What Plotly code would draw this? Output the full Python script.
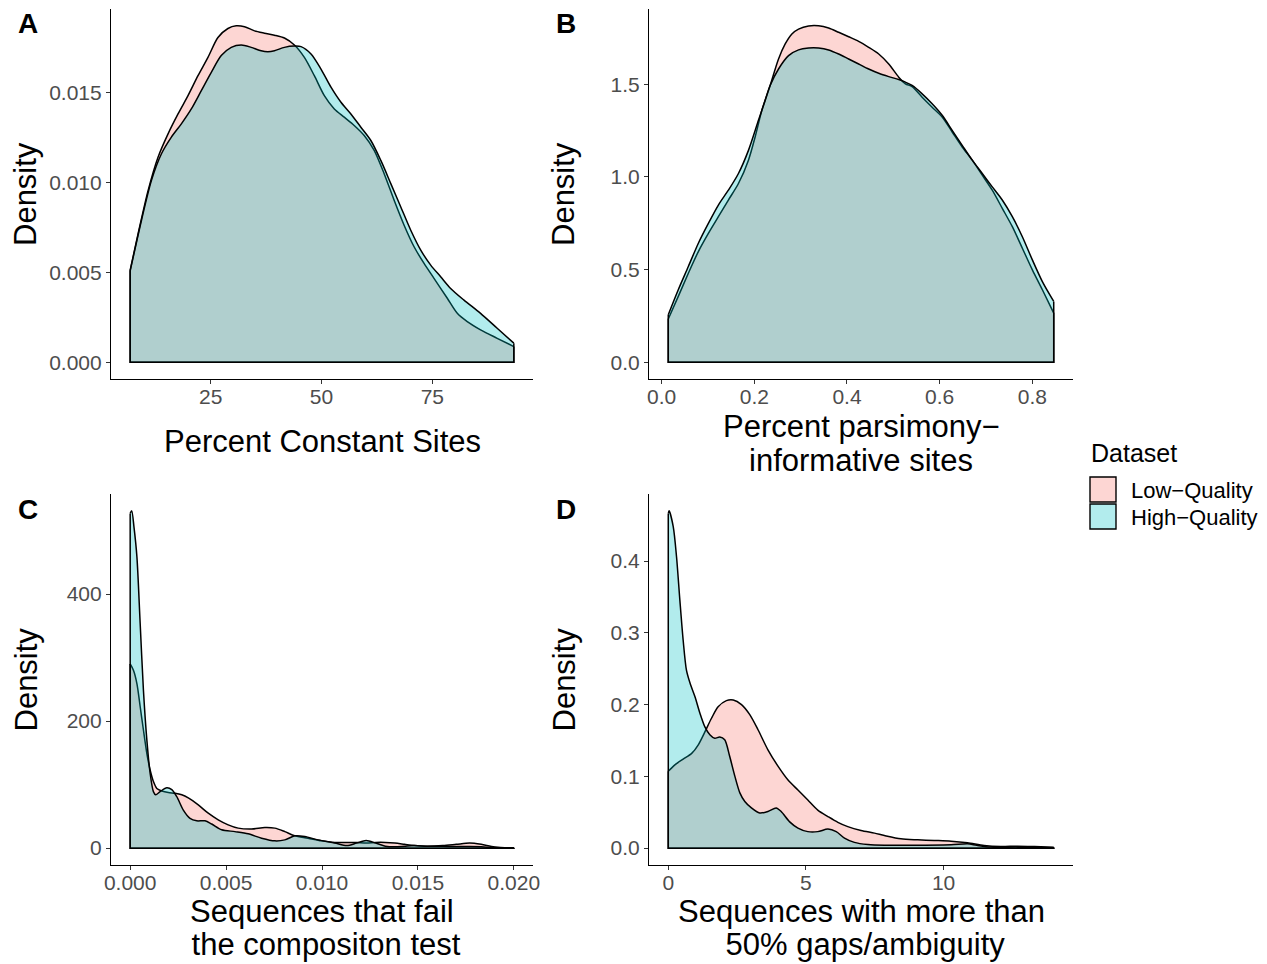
import plotly.graph_objects as go

W, H = 1267, 964
FONT = "Liberation Sans, Arial, Helvetica, sans-serif"
LOW_FILL = "rgba(248,118,109,0.3)"
HIGH_FILL = "rgba(0,191,196,0.3)"
TICK_GREY = "#4D4D4D"

series_names = ["Low\u2212Quality", "High\u2212Quality"]

# ---- A: percent constant sites ----
a_low_x = [6.86, 8.66, 10.91, 13.16, 15.40, 17.65, 19.90, 22.15, 24.40, 26.65, 28.90, 30.77,
           32.65, 34.90, 37.14, 39.39, 41.64, 43.89, 46.14, 48.39, 50.64, 52.89, 55.13, 57.38,
           59.63, 61.88, 64.13, 66.38, 68.63, 70.88, 73.13, 75.37, 78.37, 80.62, 82.87, 85.87,
           89.62, 93.37]
a_low_y = [0.00513, 0.00717, 0.00957, 0.01143, 0.01272, 0.01383, 0.01485, 0.01596, 0.01698,
           0.01809, 0.01859, 0.01874, 0.01869, 0.01846, 0.01833, 0.01822, 0.01806, 0.01767,
           0.01698, 0.01596, 0.01485, 0.01411, 0.01365, 0.01319, 0.01263, 0.01180, 0.01050,
           0.00902, 0.00763, 0.00643, 0.00550, 0.00467, 0.00356, 0.00272, 0.00226, 0.00180,
           0.00133, 0.00087]
a_high_x = [6.86, 9.41, 11.66, 13.91, 16.15, 18.40, 20.65, 22.90, 25.15, 27.40, 29.65, 31.90,
            34.15, 36.39, 37.89, 39.39, 41.64, 43.89, 45.39, 47.64, 49.89, 52.14, 54.39, 56.63,
            58.88, 61.13, 63.38, 65.63, 67.88, 70.13, 72.38, 74.63, 76.87, 79.12, 82.12, 85.87,
            89.62, 93.37]
a_high_y = [0.00509, 0.00791, 0.01013, 0.01161, 0.01254, 0.01328, 0.01411, 0.01513, 0.01615,
            0.01708, 0.01754, 0.01767, 0.01754, 0.01735, 0.01730, 0.01735, 0.01754, 0.01761,
            0.01758, 0.01717, 0.01633, 0.01532, 0.01448, 0.01383, 0.01309, 0.01235, 0.01124,
            0.00995, 0.00865, 0.00735, 0.00624, 0.00541, 0.00476, 0.00411, 0.00346, 0.00272,
            0.00189, 0.00106]

# ---- B: percent parsimony-informative sites ----
b_low_x = [0.0144, 0.036, 0.0577, 0.0793, 0.1009, 0.1225, 0.1441, 0.1658, 0.1874, 0.2018,
           0.2162, 0.2342, 0.2523, 0.2667, 0.2811, 0.2955, 0.3171, 0.3387, 0.3604, 0.382,
           0.4036, 0.4252, 0.4468, 0.4685, 0.4901, 0.5117, 0.5261, 0.5405, 0.5622, 0.5838,
           0.6054, 0.627, 0.6486, 0.6703, 0.6919, 0.7135, 0.7351, 0.7568, 0.7784, 0.8,
           0.8216, 0.8461]
b_low_y = [0.233, 0.355, 0.480, 0.597, 0.695, 0.785, 0.875, 0.964, 1.090, 1.215, 1.358, 1.493,
           1.636, 1.717, 1.771, 1.797, 1.814, 1.815, 1.803, 1.780, 1.756, 1.731, 1.699, 1.663,
           1.609, 1.538, 1.502, 1.487, 1.430, 1.376, 1.323, 1.242, 1.161, 1.090, 1.009, 0.928,
           0.830, 0.731, 0.615, 0.498, 0.391, 0.265]
b_high_x = [0.0144, 0.036, 0.0577, 0.0793, 0.1009, 0.1225, 0.1441, 0.1658, 0.1874, 0.209,
            0.2234, 0.2342, 0.2523, 0.2739, 0.2955, 0.3171, 0.3387, 0.3604, 0.382, 0.4036,
            0.4252, 0.4468, 0.4685, 0.4901, 0.5117, 0.5261, 0.5405, 0.5622, 0.5838, 0.6054,
            0.627, 0.6486, 0.6703, 0.6919, 0.7135, 0.7351, 0.7568, 0.7784, 0.8, 0.8216, 0.8461]
b_high_y = [0.256, 0.391, 0.516, 0.642, 0.749, 0.848, 0.928, 1.018, 1.143, 1.305, 1.412, 1.493,
            1.582, 1.654, 1.685, 1.695, 1.695, 1.685, 1.663, 1.636, 1.609, 1.582, 1.559, 1.541,
            1.525, 1.511, 1.493, 1.448, 1.394, 1.332, 1.251, 1.170, 1.090, 1.018, 0.946, 0.875,
            0.785, 0.677, 0.552, 0.435, 0.328]

# ---- C: sequences failing the composition test ----
c_low_x = [0.0, 0.00017, 0.00035, 0.00052, 0.00069, 0.00087, 0.00104, 0.00121, 0.00139,
           0.00165, 0.00199, 0.00234, 0.00269, 0.00303, 0.00355, 0.00407, 0.00459, 0.00511,
           0.00563, 0.00633, 0.00702, 0.00754, 0.00806, 0.00858, 0.00927, 0.00996, 0.01066,
           0.0113, 0.0118, 0.0123, 0.0128, 0.0133, 0.0138, 0.0143, 0.0148, 0.0155, 0.0163,
           0.0170, 0.0177, 0.0183, 0.0190, 0.0200]
c_low_y = [290, 280, 259, 223, 186, 149, 123, 105, 94, 90, 87.5, 86.5, 84, 79, 68, 55, 44.6,
           36.7, 31.5, 30, 32.5, 31.5, 26, 19.4, 15.7, 11.5, 9, 9, 9, 8, 9, 9, 8, 6, 4, 3, 4,
           6, 8, 6, 2, 0.5]
c_high_x = [0.0, 0.00008, 0.0002, 0.00035, 0.00052, 0.00069, 0.00087, 0.00104, 0.00121,
            0.00133, 0.00156, 0.00191, 0.00217, 0.00243, 0.00277, 0.00312, 0.00347, 0.0039,
            0.00425, 0.00477, 0.00546, 0.00615, 0.00685, 0.00754, 0.00806, 0.00858, 0.0091,
            0.00979, 0.01066, 0.0113, 0.0118, 0.0123, 0.0128, 0.0133, 0.0138, 0.0143, 0.0148,
            0.0155, 0.0163, 0.0170, 0.0177, 0.0183, 0.0190, 0.0200]
c_high_y = [527, 531, 505, 459, 354, 249, 170, 118, 89, 84, 89, 95, 92, 81, 60, 47, 43, 43, 38,
            29, 26, 22.5, 15.7, 11.5, 13, 19.4, 18.3, 13, 8, 4, 8, 12, 8, 3, 2, 3, 4, 3, 3, 2.5,
            2.5, 2, 1, 0.5]

# ---- D: sequences with more than 50% gaps/ambiguity ----
d_low_x = [0.0, 0.24, 0.54, 0.85, 1.09, 1.33, 1.57, 1.81, 2.11, 2.36, 2.66, 2.96, 3.26, 3.62,
           3.99, 4.35, 4.71, 5.07, 5.43, 5.80, 6.16, 6.52, 7.0, 7.49, 7.85, 8.45, 9.06, 9.66,
           10.27, 10.87, 11.47, 12.08, 12.68, 13.3, 14.0]
d_low_y = [0.107, 0.116, 0.124, 0.132, 0.144, 0.162, 0.181, 0.197, 0.2056, 0.2065, 0.200,
           0.186, 0.165, 0.137, 0.114, 0.095, 0.081, 0.067, 0.053, 0.044, 0.036, 0.030,
           0.0246, 0.0209, 0.0176, 0.013, 0.0116, 0.0107, 0.0097, 0.0074, 0.0037, 0.0023,
           0.0028, 0.0023, 0.0014]
d_high_x = [0.0, 0.03, 0.18, 0.30, 0.42, 0.54, 0.66, 0.79, 0.97, 1.15, 1.33, 1.51, 1.69, 1.87,
            2.05, 2.23, 2.42, 2.60, 2.78, 3.02, 3.32, 3.62, 3.92, 4.10, 4.40, 4.71, 5.07, 5.43,
            5.80, 6.10, 6.40, 6.76, 7.25, 7.85, 9.06, 10.27, 10.87, 11.2, 11.7, 12.7, 14.0]
d_high_y = [0.466, 0.470, 0.448, 0.406, 0.346, 0.290, 0.248, 0.230, 0.211, 0.188, 0.169,
            0.158, 0.153, 0.155, 0.151, 0.128, 0.100, 0.077, 0.065, 0.056, 0.049, 0.051,
            0.056, 0.051, 0.037, 0.028, 0.023, 0.023, 0.0265, 0.023, 0.014, 0.008, 0.005,
            0.004, 0.004, 0.0046, 0.006, 0.004, 0.0015, 0.0014, 0.0005]

a_xticks = [25, 50, 75]
a_xlabels = ["25", "50", "75"]
a_yticks = [0.0, 0.005, 0.010, 0.015]
a_ylabels = ["0.000", "0.005", "0.010", "0.015"]
b_xticks = [0.0, 0.2, 0.4, 0.6, 0.8]
b_xlabels = ["0.0", "0.2", "0.4", "0.6", "0.8"]
b_yticks = [0.0, 0.5, 1.0, 1.5]
b_ylabels = ["0.0", "0.5", "1.0", "1.5"]
c_xticks = [0.0, 0.005, 0.010, 0.015, 0.020]
c_xlabels = ["0.000", "0.005", "0.010", "0.015", "0.020"]
c_yticks = [0, 200, 400]
c_ylabels = ["0", "200", "400"]
d_xticks = [0, 5, 10]
d_xlabels = ["0", "5", "10"]
d_yticks = [0.0, 0.1, 0.2, 0.3, 0.4]
d_ylabels = ["0.0", "0.1", "0.2", "0.3", "0.4"]

panels = [
    dict(tag="A", ax="", low=(a_low_x, a_low_y), high=(a_high_x, a_high_y),
         xt=(a_xticks, a_xlabels), yt=(a_yticks, a_ylabels),
         px=(111, 533), py=(9, 379), letter=(28, 23), ylab=26,
         title=[("Percent Constant Sites", 442)]),
    dict(tag="B", ax="2", low=(b_low_x, b_low_y), high=(b_high_x, b_high_y),
         xt=(b_xticks, b_xlabels), yt=(b_yticks, b_ylabels),
         px=(649, 1073), py=(9, 379), letter=(566, 23), ylab=564,
         title=[("Percent parsimony\u2212", 426), ("informative sites", 460)]),
    dict(tag="C", ax="3", low=(c_low_x, c_low_y), high=(c_high_x, c_high_y),
         xt=(c_xticks, c_xlabels), yt=(c_yticks, c_ylabels),
         px=(111, 533), py=(494, 865), letter=(28, 509), ylab=26,
         title=[("Sequences that fail", 911), ("\u00a0the compositon test", 944)]),
    dict(tag="D", ax="4", low=(d_low_x, d_low_y), high=(d_high_x, d_high_y),
         xt=(d_xticks, d_xlabels), yt=(d_yticks, d_ylabels),
         px=(649, 1073), py=(494, 865), letter=(566, 509), ylab=564,
         title=[("Sequences with more than", 911), ("\u00a050% gaps/ambiguity", 944)]),
]


def padded(lo, hi, frac=0.05):
    d = (hi - lo) * frac
    return [lo - d, hi + d]


fig = go.Figure()
annotations = []
layout = {}

for p in panels:
    xref, yref = "x" + p["ax"], "y" + p["ax"]
    for (xs, ys), fill in ((p["low"], LOW_FILL), (p["high"], HIGH_FILL)):
        # density curve filled down to zero
        fig.add_trace(go.Scatter(
            x=xs, y=ys, xaxis=xref, yaxis=yref, mode="lines",
            line=dict(color="black", width=1.5, shape="spline", smoothing=0.8),
            fill="tozeroy", fillcolor=fill, hoverinfo="skip", showlegend=False))
        # closing edges of the density polygon
        fig.add_trace(go.Scatter(
            x=[xs[0], xs[0], xs[-1], xs[-1]], y=[ys[0], 0, 0, ys[-1]],
            xaxis=xref, yaxis=yref, mode="lines",
            line=dict(color="black", width=1.5), hoverinfo="skip", showlegend=False))

    all_x = p["low"][0] + p["high"][0]
    all_y = p["low"][1] + p["high"][1]
    x0, x1 = p["px"]
    y0, y1 = p["py"]
    common = dict(showgrid=False, zeroline=False, showline=True, linecolor="black",
                  linewidth=1.2, ticks="outside", ticklen=4, tickwidth=1.1,
                  tickcolor="#333333", automargin=False,
                  tickfont=dict(family=FONT, size=21, color=TICK_GREY))
    layout["xaxis" + p["ax"]] = dict(
        domain=[x0 / W, x1 / W], range=padded(min(all_x), max(all_x)),
        anchor=yref, tickvals=p["xt"][0], ticktext=p["xt"][1],
        ticklabelstandoff=-5, **common)
    layout["yaxis" + p["ax"]] = dict(
        domain=[1 - y1 / H, 1 - y0 / H], range=padded(0, max(all_y)),
        anchor=xref, tickvals=p["yt"][0], ticktext=p["yt"][1], **common)

    cx = (x0 + x1) / 2
    for text, ty in p["title"]:
        annotations.append(dict(text=text, x=cx / W, y=1 - ty / H, xref="paper", yref="paper",
                                xanchor="center", yanchor="middle", showarrow=False,
                                font=dict(family=FONT, size=31, color="black")))
    annotations.append(dict(text="Density", x=p["ylab"] / W, y=1 - (y0 + y1) / 2 / H,
                            xref="paper", yref="paper", xanchor="center", yanchor="middle",
                            textangle=-90, showarrow=False,
                            font=dict(family=FONT, size=31, color="black")))
    lx, ly = p["letter"]
    annotations.append(dict(text="<b>" + p["tag"] + "</b>", x=lx / W, y=1 - ly / H,
                            xref="paper", yref="paper", xanchor="center", yanchor="middle",
                            showarrow=False, font=dict(family=FONT, size=28, color="black")))

# legend drawn as keys + labels
shapes = []
annotations.append(dict(text="Dataset", x=1089 / W, y=1 - 453 / H, xref="paper", yref="paper",
                        xanchor="left", yanchor="middle", showarrow=False,
                        font=dict(family=FONT, size=25, color="black")))
for name, fill, top in ((series_names[0], LOW_FILL, 477), (series_names[1], HIGH_FILL, 504)):
    shapes.append(dict(type="rect", xref="paper", yref="paper", x0=1090 / W, x1=1116 / W,
                       y0=1 - (top + 25) / H, y1=1 - top / H, fillcolor=fill,
                       line=dict(color="black", width=1.4)))
    annotations.append(dict(text=name, x=1129 / W, y=1 - (top + 13) / H, xref="paper",
                            yref="paper", xanchor="left", yanchor="middle", showarrow=False,
                            font=dict(family=FONT, size=22, color="black")))

fig.update_layout(
    template="none",
    width=W, height=H, margin=dict(l=0, r=0, t=0, b=0, autoexpand=False),
    paper_bgcolor="white", plot_bgcolor="white", showlegend=False,
    annotations=annotations, shapes=shapes, **layout)

fig.write_html("out.html")
